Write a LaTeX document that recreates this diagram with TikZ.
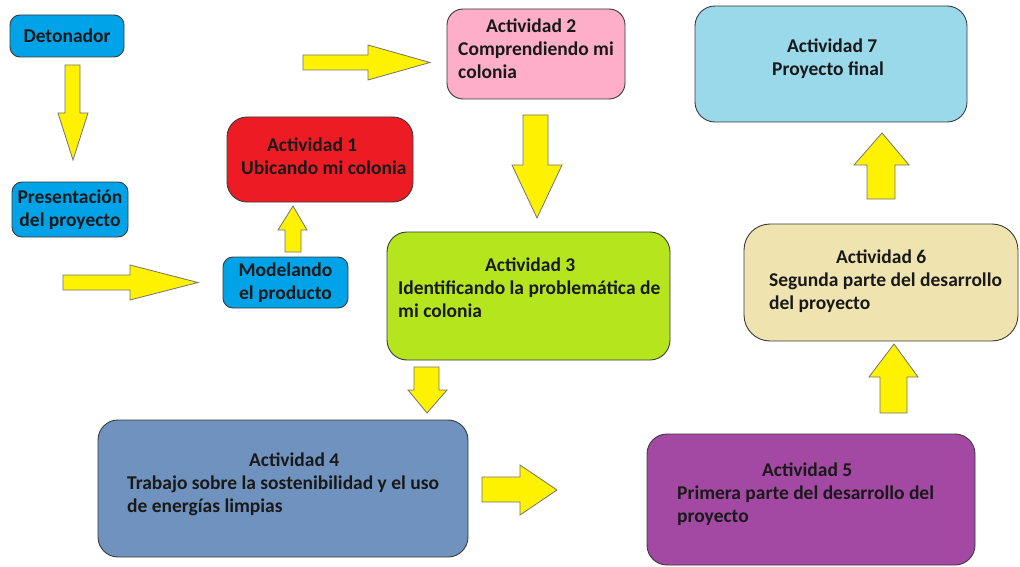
\documentclass[tikz,border=0pt]{standalone}
\usepackage{fontspec}
\setmainfont{Carlito}
\definecolor{cblue}{HTML}{00A2E8}
\definecolor{cred}{HTML}{ED1C24}
\definecolor{cpink}{HTML}{FFAEC9}
\definecolor{cgreen}{HTML}{B5E61D}
\definecolor{csteel}{HTML}{7092BE}
\definecolor{cpurple}{HTML}{A349A4}
\definecolor{ccream}{HTML}{EFE4B0}
\definecolor{csky}{HTML}{99D9EA}
\definecolor{cyel}{HTML}{FFF200}
\definecolor{cline}{HTML}{3A3A3A}
\begin{document}
\begin{tikzpicture}[x=1pt,y=-1pt,
  lbl/.style={font=\bfseries\fontsize{19.5}{23}\selectfont, text=black!90},
  smallbox/.style={draw=cline, line width=0.9pt, rounded corners=10pt, fill=cblue, align=center, inner sep=0pt, lbl},
  actbox/.style={draw=cline, line width=0.9pt, rounded corners=20pt, inner sep=0pt},
  txt/.style={anchor=base west, align=left, inner sep=0pt, lbl},
  blockarrow/.style={fill=cyel, draw=black!55, line width=0.8pt, line join=miter}
]
\useasboundingbox (0,0) rectangle (1020,567);

% small blue boxes
\node[smallbox, minimum width=114pt, minimum height=42pt] (det) at (67,36) {Detonador};
\node[smallbox, minimum width=116pt, minimum height=55pt] (pres) at (70,209.5) {Presentación\\del proyecto};
\node[smallbox, minimum width=125pt, minimum height=51pt] (mod) at (285.5,282.5) {Modelando\\el producto};

% activity boxes
\node[actbox, fill=cred, minimum width=186pt, minimum height=85pt] (a1) at (320,159.5) {};
\node[actbox, fill=cpink, minimum width=178pt, minimum height=90pt, rounded corners=16pt] (a2) at (536,54) {};
\node[actbox, fill=cgreen, minimum width=283pt, minimum height=128pt] (a3) at (528.5,296) {};
\node[actbox, fill=csteel, minimum width=370pt, minimum height=137pt] (a4) at (283,488.5) {};
\node[actbox, fill=cpurple, minimum width=328pt, minimum height=131pt] (a5) at (811,499.5) {};
\node[actbox, fill=ccream, minimum width=274pt, minimum height=117pt, rounded corners=26pt] (a6) at (881,282.5) {};
\node[actbox, fill=csky, minimum width=272pt, minimum height=116pt] (a7) at (831,64) {};

% texts (anchored at the baseline of the last line)
\node[txt] (t1) at (241,175) {\makebox[142pt][c]{Actividad 1}\\Ubicando mi colonia};
\node[txt] (t2) at (458,79) {\makebox[146pt][c]{Actividad 2}\\Comprendiendo mi\\colonia};
\node[txt] (t3) at (398,317) {\makebox[264pt][c]{Actividad 3}\\Identificando la problemática de\\mi colonia};
\node[txt] (t4) at (127,512) {\makebox[334pt][c]{Actividad 4}\\Trabajo sobre la sostenibilidad y el uso\\de energías limpias};
\node[txt] (t5) at (677,522) {\makebox[260pt][c]{Actividad 5}\\Primera parte del desarrollo del\\proyecto};
\node[txt] (t6) at (769,309) {\makebox[224pt][c]{Actividad 6}\\Segunda parte del desarrollo\\del proyecto};
\node[txt] (t7) at (772,76) {\makebox[120pt][c]{Actividad 7}\\Proyecto final};

% block arrows
\draw[blockarrow] (65,65) -- (80,65) -- (80,113) -- (88,113) -- (73,160) -- (58,113) -- (65,113) -- cycle;
\draw[blockarrow] (63,275) -- (130,275) -- (130,265) -- (198,282.5) -- (130,300) -- (130,290) -- (63,290) -- cycle;
\draw[blockarrow] (285,252) -- (285,230) -- (278,230) -- (293,206) -- (307,230) -- (301,230) -- (301,252) -- cycle;
\draw[blockarrow] (303,55) -- (368,55) -- (368,45) -- (430,62.5) -- (368,80) -- (368,70) -- (303,70) -- cycle;
\draw[blockarrow] (523,115) -- (548,115) -- (548,165) -- (562,165) -- (537,218) -- (512,165) -- (523,165) -- cycle;
\draw[blockarrow] (414,367) -- (439,367) -- (439,390) -- (447,390) -- (427,413) -- (408,390) -- (414,390) -- cycle;
\draw[blockarrow] (482,477) -- (520,477) -- (520,465) -- (557,490) -- (520,515) -- (520,502) -- (482,502) -- cycle;
\draw[blockarrow] (880,413) -- (880,377) -- (869,377) -- (894,344) -- (918,377) -- (907,377) -- (907,413) -- cycle;
\draw[blockarrow] (867,199) -- (867,165) -- (854,165) -- (882,133) -- (909,165) -- (895,165) -- (895,199) -- cycle;
\end{tikzpicture}
\end{document}
